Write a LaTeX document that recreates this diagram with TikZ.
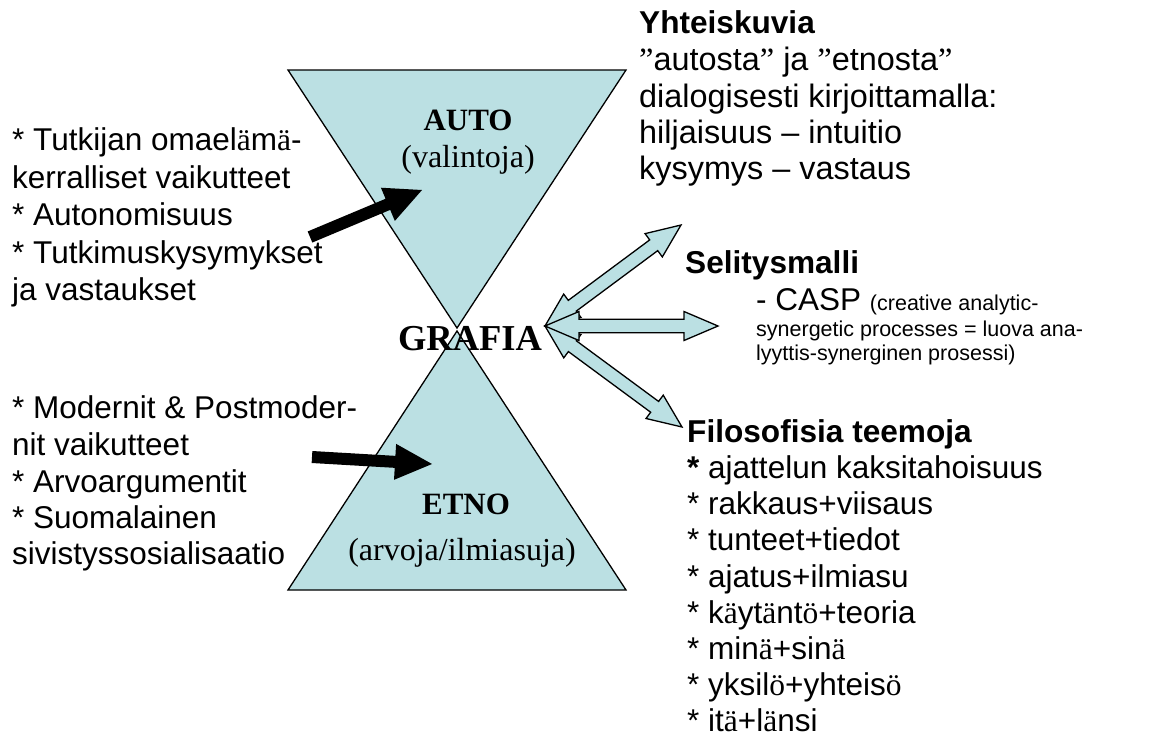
\documentclass[tikz,border=0pt]{standalone}
\usepackage{fontspec}
\setmainfont{Liberation Serif}
\newfontfamily\arialf{Liberation Sans}
\newfontfamily\tmsf{Liberation Serif}
\usetikzlibrary{calc}
\definecolor{triblue}{RGB}{187,224,227}
\newcommand\sa{{\tmsf ä}}
\newcommand\so{{\tmsf ö}}
\newcommand\dq{{\tmsf ”}}
\newcommand\dblarrow[2]{%
  \draw[hollowarrow] (#1)
    -- ($(#1)!34pt!(#2)!14.5pt!90:(#2)$)
    -- ($(#1)!34pt!(#2)!6.7pt!90:(#2)$)
    -- ($(#2)!34pt!(#1)!6.7pt!-90:(#1)$)
    -- ($(#2)!34pt!(#1)!14.5pt!-90:(#1)$)
    -- (#2)
    -- ($(#2)!34pt!(#1)!14.5pt!90:(#1)$)
    -- ($(#2)!34pt!(#1)!6.7pt!90:(#1)$)
    -- ($(#1)!34pt!(#2)!6.7pt!-90:(#2)$)
    -- ($(#1)!34pt!(#2)!14.5pt!-90:(#2)$)
    -- cycle;}
\newcommand\blackarrow[2]{%
  \fill[black] ($(#1)!6pt!90:(#2)$)
    -- ($(#2)!37pt!(#1)!6pt!-90:(#1)$)
    -- ($(#2)!37pt!(#1)!18pt!-90:(#1)$)
    -- (#2)
    -- ($(#2)!37pt!(#1)!18pt!90:(#1)$)
    -- ($(#2)!37pt!(#1)!6pt!90:(#1)$)
    -- ($(#1)!6pt!-90:(#2)$)
    -- cycle;}
\tikzset{
  tribox/.style={fill=triblue, draw=black, line width=1.3pt, line join=miter},
  hollowarrow/.style={fill=triblue, draw=black, line width=1.3pt, line join=miter},
  lt/.style={anchor=base west, inner sep=0pt, font=\arialf\fontsize{31.5}{37}\selectfont},
  rt/.style={anchor=base west, inner sep=0pt, font=\arialf\fontsize{32.4}{37}\selectfont},
  hd/.style={anchor=base west, inner sep=0pt, font=\arialf\bfseries\fontsize{31.6}{37}\selectfont},
  sm/.style={anchor=base west, inner sep=0pt, font=\arialf\fontsize{21.5}{24}\selectfont},
  serb/.style={anchor=base, inner sep=0pt, font=\tmsf\bfseries\fontsize{31}{36}\selectfont},
  serr/.style={anchor=base, inner sep=0pt, font=\tmsf\fontsize{32}{36}\selectfont},
}
\begin{document}
\begin{tikzpicture}[x=1pt,y=-1pt]
\useasboundingbox (0,0) rectangle (1149,740);
\fill[white] (0,0) rectangle (1149,740);

% hourglass triangles
\coordinate (t1) at (288,70);
\coordinate (t2) at (626,70);
\coordinate (t3) at (457,328);
\coordinate (b1) at (288,590);
\coordinate (b2) at (626,590);
\coordinate (b3) at (457,331);
\draw[tribox] (t1) -- (t2) -- (t3) -- cycle;
\draw[tribox] (b1) -- (b2) -- (b3) -- cycle;

\node[serb] (auto) at (468,130) {AUTO};
\node[serr] (valintoja) at (468,167) {(valintoja)};
\node[serb] (etno) at (466,514) {ETNO};
\node[serr] (arvoja) at (462,560) {(arvoja/ilmiasuja)};
\node[serb, font=\tmsf\bfseries\fontsize{36.5}{40}\selectfont] (grafia) at (470,350) {GRAFIA};

% hollow double arrows
\coordinate (gtip) at (545,326);
\coordinate (ytip) at (681,225);
\coordinate (stip) at (718,326);
\coordinate (ftip) at (682,427);
\dblarrow{gtip}{ytip}
\dblarrow{gtip}{ftip}
\dblarrow{gtip}{stip}

% black arrows
\coordinate (ua) at (310,237);
\coordinate (ub) at (422,190);
\coordinate (la) at (312,457);
\coordinate (lb) at (432,464);
\blackarrow{ua}{ub}
\blackarrow{la}{lb}

% left upper text
\node[lt] (lu1) at (12,150) {* Tutkijan omael\sa m\sa-};
\node[lt] (lu2) at (12,188) {kerralliset vaikutteet};
\node[lt] (lu3) at (12,225) {* Autonomisuus};
\node[lt] (lu4) at (12,263) {* Tutkimuskysymykset};
\node[lt] (lu5) at (12,300) {ja vastaukset};

% left lower text
\node[lt] (ll1) at (12,418) {* Modernit \& Postmoder-};
\node[lt] (ll2) at (12,455) {nit vaikutteet};
\node[lt] (ll3) at (12,492) {* Arvoargumentit};
\node[lt] (ll4) at (12,528) {* Suomalainen};
\node[lt] (ll5) at (12,564) {sivistyssosialisaatio};

% right top text
\node[hd] (yh) at (639,33) {Yhteiskuvia};
\node[rt] (yh2) at (639,70) {\dq autosta\dq{} ja \dq etnosta\dq};
\node[rt] (yh3) at (639,107) {dialogisesti kirjoittamalla:};
\node[rt] (yh4) at (639,143) {hiljaisuus – intuitio};
\node[rt] (yh5) at (639,179) {kysymys – vastaus};

% Selitysmalli
\node[hd] (se) at (685,273) {Selitysmalli};
\node[lt] (se2) at (756,310) {- CASP {\fontsize{21.5}{24}\selectfont (creative analytic-}};
\node[sm] (se3) at (756,336) {synergetic processes = luova ana-};
\node[sm] (se4) at (756,360) {lyyttis-synerginen prosessi)};

% Filosofisia teemoja
\node[hd] (fi) at (687,442) {Filosofisia teemoja};
\node[lt] (f1) at (687,478) {{\bfseries *} ajattelun kaksitahoisuus};
\node[lt] (f2) at (687,514) {* rakkaus+viisaus};
\node[lt] (f3) at (687,550) {* tunteet+tiedot};
\node[lt] (f4) at (687,587) {* ajatus+ilmiasu};
\node[lt] (f5) at (687,623) {* k\sa yt\sa nt\so +teoria};
\node[lt] (f6) at (687,659) {* min\sa +sin\sa};
\node[lt] (f7) at (687,695) {* yksil\so +yhteis\so};
\node[lt] (f8) at (687,731) {* it\sa +l\sa nsi};
\end{tikzpicture}
\end{document}
